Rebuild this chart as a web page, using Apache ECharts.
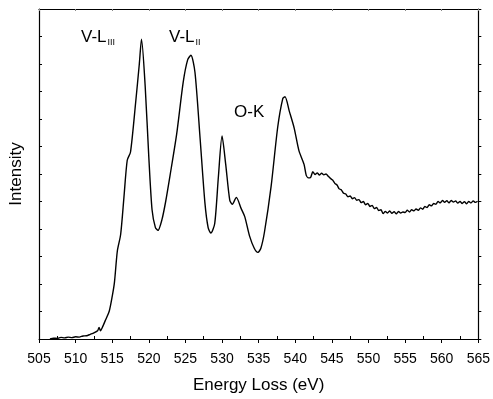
<!DOCTYPE html>
<html>
<head>
<meta charset="utf-8">
<script src="https://cdn.jsdelivr.net/npm/echarts@6/dist/echarts.min.js"></script>
<style>
  html, body { margin: 0; padding: 0; background: #fff; }
  #chart { width: 493px; height: 399px; }
</style>
</head>
<body>
<div id="chart"></div>
<script>
// EELS spectrum: energy loss (eV) vs intensity (arb. units)
const energy = [
  506.5, 507.0, 507.5, 508.0, 508.5, 509.0, 509.5, 510.0, 510.5, 511.0,
  511.5, 512.0, 512.5, 513.0, 513.2, 513.4, 513.7, 514.1, 514.6, 515.0,
  515.3, 515.7, 516.15, 516.6, 517.05, 517.5, 518.2, 518.7, 519.0, 519.5,
  520.0, 520.44, 520.9, 521.25, 521.8, 522.3, 522.9, 523.8, 524.7, 525.3,
  525.75, 526.3, 527.0, 527.66, 528.1, 528.47, 529.0, 529.5, 530.0, 530.5,
  531.05, 531.4, 531.95, 532.6, 533.1, 533.75, 534.4, 534.9, 535.3, 535.8,
  536.7, 537.6, 538.3, 538.6, 539.2, 539.85, 540.5, 541.2,
  541.5, 541.8, 542.1, 542.4, 542.7, 543.0, 543.3, 543.6, 543.9, 544.2,
  544.5, 544.8, 545.1, 545.4, 545.7, 546.0, 546.3, 546.6, 546.9, 547.2,
  547.5, 547.8, 548.1, 548.4, 548.7, 549.0, 549.3, 549.6, 549.9, 550.2,
  550.5, 550.8, 551.1, 551.4, 551.7, 552.0, 552.3, 552.6, 552.9, 553.2,
  553.5, 553.8, 554.1, 554.4, 554.7, 555.0, 555.3, 555.6, 555.9, 556.2,
  556.5, 556.8, 557.1, 557.4, 557.7, 558.0, 558.3, 558.6, 558.9, 559.2,
  559.5, 559.8, 560.1, 560.4, 560.7, 561.0, 561.3, 561.6, 561.9, 562.2,
  562.5, 562.8, 563.1, 563.4, 563.7, 564.0, 564.3, 564.6, 564.9
];
const intensity = [
  0.00, 0.03, 0.02, 0.06, 0.04, 0.07, 0.05, 0.08, 0.07, 0.11,
  0.12, 0.17, 0.22, 0.30, 0.42, 0.30, 0.45, 0.70, 1.02, 1.55,
  2.05, 3.20, 3.80, 5.15, 6.50, 6.80, 8.60, 10.00, 10.90, 9.20,
  6.60, 4.70, 4.05, 3.95, 4.35, 5.00, 5.95, 7.45, 9.35, 10.15,
  10.32, 9.70, 7.30, 4.95, 4.05, 3.85, 4.20, 5.90, 7.38, 6.35,
  5.05, 4.90, 5.15, 4.75, 4.45, 3.75, 3.30, 3.15, 3.30, 3.90,
  5.55, 7.70, 8.75, 8.81, 8.27, 7.67, 6.85, 6.35,
  5.95, 5.86, 5.88, 6.08, 5.98, 6.04, 5.96, 6.03, 5.97, 6.00,
  5.92, 5.84, 5.78, 5.66, 5.60, 5.46, 5.42, 5.30, 5.27, 5.17,
  5.20, 5.10, 5.14, 5.04, 5.07, 4.96, 5.00, 4.88, 4.93, 4.82,
  4.86, 4.74, 4.78, 4.67, 4.70, 4.56, 4.64, 4.58, 4.66, 4.57,
  4.63, 4.55, 4.64, 4.58, 4.62, 4.60, 4.68, 4.62, 4.70, 4.66,
  4.73, 4.68, 4.77, 4.72, 4.82, 4.78, 4.88, 4.84, 4.93, 4.90,
  5.00, 4.95, 5.04, 4.97, 5.03, 4.95, 5.04, 4.98, 5.02, 4.94,
  5.00, 4.93, 4.99, 4.92, 5.00, 4.95, 5.02, 4.97, 5.01
];
const xTicks = { min: 505, max: 565, step: 5 };
const yRange = { min: 0, max: 12, step: 1 };

const chart = echarts.init(document.getElementById('chart'));
const font = 'Liberation Sans, Arial, sans-serif';

const option = {
  animation: false,
  grid: { left: 36, right: 14, top: 9, bottom: 54 },
  xAxis: [
    {
      type: 'value',
      min: xTicks.min, max: xTicks.max, interval: xTicks.step,
      name: 'Energy Loss (eV)',
      nameLocation: 'middle',
      nameGap: 38,
      nameTextStyle: { color: '#000', fontSize: 17, fontFamily: font },
      axisLine: { show: true, onZero: false, lineStyle: { color: '#000', width: 1.2 } },
      axisTick: { show: true, inside: false, length: 4, lineStyle: { color: '#000' } },
      minorTick: { show: true, splitNumber: 2, length: -3, lineStyle: { color: '#000' } },
      axisLabel: { color: '#000', fontSize: 14, fontFamily: font, margin: 13 },
      splitLine: { show: false }
    },
    {
      type: 'value', position: 'top',
      min: xTicks.min, max: xTicks.max, interval: xTicks.step,
      axisLine: { show: true, onZero: false, lineStyle: { color: '#000', width: 1.2 } },
      axisTick: { show: true, inside: true, length: 2, lineStyle: { color: '#888' } },
      axisLabel: { show: false },
      splitLine: { show: false }
    }
  ],
  yAxis: [
    {
      type: 'value',
      min: yRange.min, max: yRange.max, interval: yRange.step,
      name: 'Intensity',
      nameLocation: 'middle',
      nameGap: 14,
      nameTextStyle: { color: '#000', fontSize: 17, fontFamily: font },
      axisLine: { show: true, onZero: false, lineStyle: { color: '#000', width: 1.2 } },
      axisTick: { show: true, inside: true, length: 3, lineStyle: { color: '#000' } },
      axisLabel: { show: false },
      splitLine: { show: false }
    },
    {
      type: 'value', position: 'right',
      min: yRange.min, max: yRange.max, interval: yRange.step,
      axisLine: { show: true, onZero: false, lineStyle: { color: '#000', width: 1.2 } },
      axisTick: { show: true, inside: false, length: 3, lineStyle: { color: '#000' } },
      axisLabel: { show: false },
      splitLine: { show: false }
    }
  ],
  series: [
    {
      type: 'line',
      data: energy.map((e, i) => [e, intensity[i]]),
      showSymbol: false,
      smooth: 0.25,
      lineStyle: { color: '#000', width: 1.4 },
      z: 3
    }
  ],
  graphic: [
    {
      type: 'text', left: 81, top: 29,
      style: {
        text: '{m|V-L}{s|III}',
        rich: {
          m: { fontSize: 17, fontFamily: font, fill: '#000' },
          s: { fontSize: 9, fontFamily: font, fill: '#000', padding: [10, 0, 0, 1] }
        }
      }
    },
    {
      type: 'text', left: 169, top: 29,
      style: {
        text: '{m|V-L}{s|II}',
        rich: {
          m: { fontSize: 17, fontFamily: font, fill: '#000' },
          s: { fontSize: 9, fontFamily: font, fill: '#000', padding: [10, 0, 0, 1] }
        }
      }
    },
    {
      type: 'text', left: 234, top: 104,
      style: { text: 'O-K', fontSize: 17, fontFamily: font, fill: '#000' }
    }
  ]
};

chart.setOption(option);
</script>
</body>
</html>
